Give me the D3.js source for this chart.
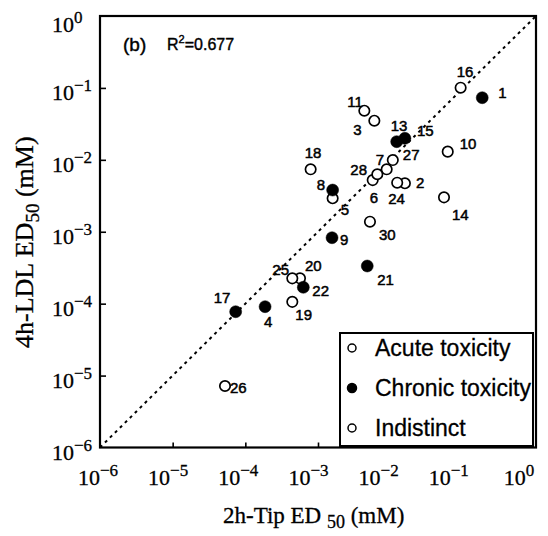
<!DOCTYPE html>
<html>
<head>
<meta charset="utf-8">
<script src="https://cdn.jsdelivr.net/npm/d3@7"></script>
<style>
html,body{margin:0;padding:0;background:#fff;}
svg{display:block;}
</style>
</head>
<body>
<div id="chart"></div>
<script>
// ---- data ----
const compoundIds = [1, 2, 3, 4, 5, 6, 7, 8, 9, 10, 11, 13, 14, 15, 16, 17, 18, 19, 20, 21, 22, 24, 25, 26, 27, 28, 30];
const tipED50 = [0.182, 0.0157, 0.00596, 0.000187, 0.00159, 0.00566, 0.00881, 0.00159, 0.00156, 0.061, 0.00434, 0.0121, 0.0542, 0.0157, 0.0918, 0.0000736, 0.000792, 0.000443, 0.000565, 0.00476, 0.000628, 0.0123, 0.000443, 0.0000525, 0.0107, 0.00655, 0.00519];
const ldlED50 = [0.0731, 0.00472, 0.035, 0.0000908, 0.00292, 0.00523, 0.00738, 0.0038, 0.000826, 0.013, 0.0482, 0.0179, 0.00301, 0.0199, 0.1007, 0.0000773, 0.00738, 0.000106, 0.000225, 0.000334, 0.000169, 0.00481, 0.000225, 0.00000716, 0.00993, 0.0063, 0.00138];
const toxicity = ["C", "A", "A", "C", "A", "A", "A", "C", "C", "A", "A", "C", "A", "C", "A", "C", "A", "A", "A", "C", "C", "A", "A", "A", "A", "A", "A"];
const decades = [1e-6, 1e-5, 1e-4, 1e-3, 1e-2, 1e-1, 1];
const tickExponents = ["\u22126", "\u22125", "\u22124", "\u22123", "\u22122", "\u22121", "0"];
const legendLabels = ["Acute toxicity", "Chronic toxicity", "Indistinct"];
const legendFilled = [false, true, false];
const panelLabel = "(b)";
const r2Text = "0.677";

// label placement relative to each point (layout only)
const labelDx = [16, 11, -21, -1, 8, -3, -11, -16, 8, 12, -17, -6, 8, 12, -4, -22, -6, 3, 5, 10, 9, -9, -20, 5, 10, -27, 9];
const labelDy = [0, 5, 14, 20, 17, 23, -4, 0, 7, -3, -4, -11, 23, -2, -11, -9, -11, 18, -7, 19, 9, 21, -3, 7, 0, 1, 18];

const W = 548, H = 536;
const svg = d3.select("#chart").append("svg").attr("width", W).attr("height", H);

const serif = "'Liberation Serif', 'Times New Roman', serif";
const sans = "'Liberation Sans', Arial, Helvetica, sans-serif";

const x = d3.scaleLog().domain([1e-6, 1]).range([100, 536]);
const y = d3.scaleLog().domain([1e-6, 1]).range([447.5, 16]);
// printed tick labels sit slightly compressed relative to ticks
const xLab = d3.scaleLog().domain([1e-6, 1]).range([98, 519]);

// ticks (inward)
svg.append("g").attr("transform", `translate(0,${y(1e-6)})`)
  .call(d3.axisBottom(x).tickValues(decades.slice(1, -1)).tickSize(-5).tickFormat(""))
  .call(g => g.select(".domain").remove())
  .call(g => g.selectAll("line").attr("stroke", "#000").attr("stroke-width", 1.6));
svg.append("g").attr("transform", `translate(${x(1e-6)},0)`)
  .call(d3.axisLeft(y).tickValues(decades.slice(1, -1)).tickSize(-6).tickFormat(""))
  .call(g => g.select(".domain").remove())
  .call(g => g.selectAll("line").attr("stroke", "#000").attr("stroke-width", 1.6));

// frame
svg.append("rect")
  .attr("x", x(1e-6)).attr("y", y(1))
  .attr("width", x(1) - x(1e-6)).attr("height", y(1e-6) - y(1))
  .attr("fill", "none").attr("stroke", "#000").attr("stroke-width", 2.2);

// x tick labels
decades.forEach((d, i) => {
  const t = svg.append("text").attr("x", xLab(d)).attr("y", 485)
    .attr("text-anchor", "middle").attr("font-family", serif).attr("font-size", 22)
    .attr("stroke", "#000").attr("stroke-width", 0.3);
  t.append("tspan").text("10");
  t.append("tspan").attr("font-size", 17).attr("dy", -9).text(tickExponents[i]);
});
// y tick labels
decades.forEach((d, i) => {
  const t = svg.append("text").attr("x", 52).attr("y", Math.max(y(d) + 12, 32))
    .attr("font-family", serif).attr("font-size", 22)
    .attr("stroke", "#000").attr("stroke-width", 0.3);
  t.append("tspan").text("10");
  t.append("tspan").attr("font-size", 17).attr("dy", -9).text(tickExponents[i]);
});

// axis titles
const xt = svg.append("text").attr("x", 223).attr("y", 523)
  .attr("font-family", serif).attr("font-size", 23)
  .attr("stroke", "#000").attr("stroke-width", 0.3);
xt.append("tspan").text("2h-Tip ED ");
xt.append("tspan").attr("font-size", 18).attr("dy", 5).text("50");
xt.append("tspan").attr("dy", -5).text(" (mM)");

const yt = svg.append("text").attr("transform", "translate(33,348) rotate(-90)")
  .attr("font-family", serif).attr("font-size", 26)
  .attr("stroke", "#000").attr("stroke-width", 0.3);
yt.append("tspan").text("4h-LDL ED");
yt.append("tspan").attr("font-size", 19).attr("dy", 6).text("50");
yt.append("tspan").attr("dy", -6).text(" (mM)");

// diagonal 1:1 line
svg.append("line")
  .attr("x1", x(1e-6)).attr("y1", y(1e-6)).attr("x2", x(1)).attr("y2", y(1))
  .attr("stroke", "#000").attr("stroke-width", 2).attr("stroke-dasharray", "3,4");

// panel label
svg.append("text").attr("x", 123).attr("y", 51).attr("font-family", sans).attr("font-size", 19)
  .attr("stroke", "#000").attr("stroke-width", 0.4).text(panelLabel);
const rt = svg.append("text").attr("x", 167).attr("y", 50).attr("font-family", sans).attr("font-size", 16)
  .attr("stroke", "#000").attr("stroke-width", 0.4);
rt.append("tspan").text("R");
rt.append("tspan").attr("font-size", 11).attr("dy", -7).text("2");
rt.append("tspan").attr("dy", 7).text("=" + r2Text);

// points
const pts = compoundIds.map((id, i) => ({id, tx: tipED50[i], ly: ldlED50[i], tox: toxicity[i], dx: labelDx[i], dy: labelDy[i]}));
const g = svg.append("g");
g.selectAll("circle").data(pts).join("circle")
  .attr("cx", d => x(d.tx)).attr("cy", d => y(d.ly))
  .attr("r", d => d.tox === "C" ? 6 : 5.2)
  .attr("fill", d => d.tox === "C" ? "#000" : "#fff")
  .attr("stroke", "#000").attr("stroke-width", d => d.tox === "C" ? 0.5 : 1.7);
g.selectAll("text").data(pts).join("text")
  .attr("x", d => x(d.tx) + d.dx).attr("y", d => y(d.ly) + d.dy)
  .attr("font-family", sans).attr("font-size", 15)
  .attr("stroke", "#000").attr("stroke-width", 0.5)
  .text(d => d.id);

// legend
const lg = svg.append("g");
lg.append("rect").attr("x", 340).attr("y", 333).attr("width", 193).attr("height", 113)
  .attr("fill", "#fff").attr("stroke", "#000").attr("stroke-width", 2);
legendLabels.forEach((lab, i) => {
  const cy = 348 + i * 40;
  lg.append("circle").attr("cx", 352).attr("cy", cy).attr("r", legendFilled[i] ? 4.5 : 4)
    .attr("fill", legendFilled[i] ? "#000" : "#fff").attr("stroke", "#000").attr("stroke-width", 1.5);
  lg.append("text").attr("x", 375).attr("y", cy + 8).attr("font-family", sans).attr("font-size", 23)
    .attr("stroke", "#000").attr("stroke-width", 0.3).text(lab);
});
</script>
</body>
</html>
